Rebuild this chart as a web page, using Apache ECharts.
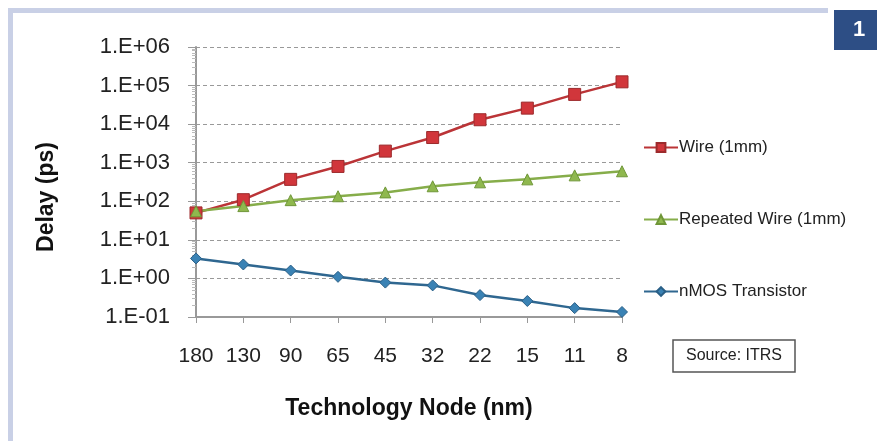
<!DOCTYPE html>
<html>
<head>
<meta charset="utf-8">
<script src="https://cdn.jsdelivr.net/npm/echarts@6/dist/echarts.min.js"></script>
<style>
  html, body { margin: 0; padding: 0; background: #fff; }
  #chart { width: 877px; height: 441px; }
</style>
</head>
<body>
<div id="chart"></div>
<script>
// technology nodes (nm)
const nodes = ['180', '130', '90', '65', '45', '32', '22', '15', '11', '8']
// delays in ps
const wireDelay = [50, 110, 370, 800, 2000, 4500, 13000, 26000, 59000, 125000]
const repeatedDelay = [55, 75, 107, 135, 170, 245, 310, 370, 470, 600]
const nmosDelay = [3.3, 2.3, 1.6, 1.1, 0.78, 0.66, 0.37, 0.26, 0.17, 0.135]

const chart = echarts.init(document.getElementById('chart'))
const font = 'Liberation Sans, Arial, sans-serif'

const fmtExp = (v) => {
  const e = Math.round(Math.log10(v))
  const s = e < 0 ? '-' : '+'
  const a = Math.abs(e)
  return '1.E' + s + (a < 10 ? '0' + a : a)
}

chart.setOption({
  backgroundColor: '#fff',
  animation: false,
  textStyle: { fontFamily: font },
  title: {
    text: 'Source: ITRS',
    left: 673,
    top: 340,
    borderColor: '#555',
    borderWidth: 1.5,
    padding: [8, 13, 8, 13],
    textStyle: { fontSize: 16, fontWeight: 'normal', color: '#222', fontFamily: font }
  },
  legend: {
    orient: 'vertical',
    left: 638,
    top: 134,
    itemWidth: 34,
    itemHeight: 11,
    itemGap: 55,
    textStyle: { fontSize: 17, color: '#222', padding: [0, 0, 0, -4] },
    data: ['Wire (1mm)', 'Repeated Wire (1mm)', 'nMOS Transistor']
  },
  grid: { left: 196, right: 255, top: 47, bottom: 124 },
  xAxis: {
    type: 'category',
    data: nodes,
    boundaryGap: false,
    name: 'Technology Node (nm)',
    nameLocation: 'middle',
    nameGap: 80,
    nameTextStyle: { fontSize: 23, fontWeight: 'bold', color: '#111' },
    axisLine: { lineStyle: { color: '#999', width: 2 } },
    axisTick: { show: true, interval: 0, length: 6, lineStyle: { color: '#999' } },
    axisLabel: { interval: 0, fontSize: 21, color: '#222', margin: 29 }
  },
  yAxis: {
    type: 'log',
    logBase: 10,
    min: 0.1,
    max: 1000000,
    axisLine: { show: true, lineStyle: { color: '#999', width: 2 } },
    axisTick: { show: true, length: 8, lineStyle: { color: '#999' } },
    minorTick: { show: true, splitNumber: 9, length: 4, lineStyle: { color: '#bbb' } },
    axisLabel: { fontSize: 22, color: '#222', margin: 26, formatter: fmtExp },
    splitLine: { show: true, lineStyle: { type: [4, 3], color: '#999', width: 1 } }
  },
  series: [
    {
      name: 'Wire (1mm)',
      type: 'line',
      data: wireDelay,
      symbol: 'rect',
      symbolSize: 12,
      lineStyle: { color: '#bb3437', width: 2.5 },
      itemStyle: { color: '#d1363b', borderColor: '#9c2a2c', borderWidth: 1 }
    },
    {
      name: 'Repeated Wire (1mm)',
      type: 'line',
      data: repeatedDelay,
      symbol: 'triangle',
      symbolSize: 11,
      lineStyle: { color: '#86ad4a', width: 2.5 },
      itemStyle: { color: '#8fb84e', borderColor: '#6f9638', borderWidth: 1 }
    },
    {
      name: 'nMOS Transistor',
      type: 'line',
      data: nmosDelay,
      symbol: 'diamond',
      symbolSize: 11,
      lineStyle: { color: '#2f6790', width: 2.5 },
      itemStyle: { color: '#3a82b4', borderColor: '#2a5f86', borderWidth: 1 }
    }
  ],
  graphic: [
    { type: 'rect', shape: { x: 10, y: 8, width: 818, height: 5 }, style: { fill: '#c9d0e6' }, silent: true },
    { type: 'rect', shape: { x: 8, y: 8, width: 5, height: 433 }, style: { fill: '#c9d0e6' }, silent: true },
    { type: 'rect', shape: { x: 834, y: 10, width: 43, height: 40 }, style: { fill: '#2d4e85' }, silent: true },
    {
      type: 'text', left: 853, top: 19, silent: true,
      style: { text: '1', fill: '#fff', font: 'bold 22px ' + font }
    },
    {
      type: 'text', x: 47, y: 197, rotation: Math.PI / 2, silent: true,
      style: {
        text: 'Delay (ps)', fill: '#111', font: 'bold 23px ' + font,
        align: 'center', verticalAlign: 'middle'
      }
    }
  ]
})
</script>
</body>
</html>
